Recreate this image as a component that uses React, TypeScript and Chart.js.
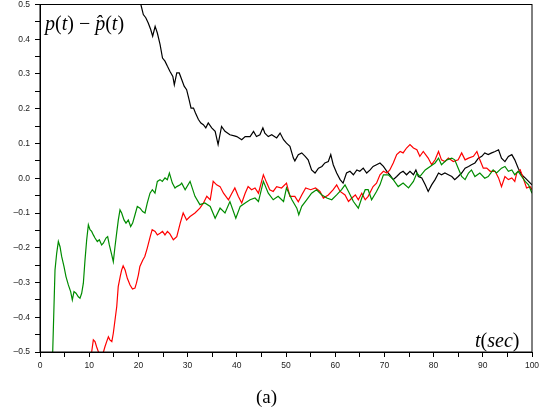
import React, { useEffect, useRef } from "react";
import { Chart, registerables } from "chart.js";

Chart.register(...registerables);

// time axis (s) and error values p(t) - p̂(t) for three runs
const tGreen = [2.2, 2.58, 3.05, 3.39, 3.73, 4.07, 4.4, 4.88, 5.28, 5.76, 6.23, 6.57, 6.91, 7.32, 7.79, 8.13, 8.47, 8.81, 9.15, 9.49, 9.83, 10.16, 10.5, 10.84, 11.18, 11.65, 12.06, 12.53, 12.87, 13.41, 13.75, 14.09, 14.57, 14.9, 15.24, 15.58, 15.92, 16.26, 16.6, 17.07, 17.48, 17.95, 18.43, 18.83, 19.31, 19.78, 20.33, 20.87, 21.34, 21.81, 22.36, 22.83, 23.37, 23.85, 24.39, 24.86, 25.41, 25.88, 26.3, 26.9, 27.44, 27.8, 28.5, 28.8, 29.5, 30.5, 31.5, 32.5, 33.5, 34.6, 35.6, 36.6, 37.6, 38.6, 39.8, 40.7, 41.7, 42.7, 43.7, 44.4, 45.4, 46.4, 47.4, 48.4, 49.5, 50.1, 51.2, 52.2, 52.6, 53.2, 54.2, 55.2, 56.2, 57.3, 58.3, 59.3, 60.3, 61.3, 62.0, 62.7, 63.7, 64.7, 65.4, 66.1, 66.7, 67.4, 68.4, 69.1, 69.8, 70.8, 71.8, 72.8, 73.8, 74.9, 75.9, 76.6, 77.2, 78.3, 79.3, 80.3, 81.0, 81.6, 82.7, 83.7, 84.3, 85.0, 85.7, 86.4, 87.1, 87.7, 88.4, 89.4, 90.4, 91.1, 92.1, 92.8, 93.8, 94.5, 95.2, 95.9, 96.5, 97.2, 97.9, 98.6, 99.3, 100];
const vGreen = [-0.6, -0.5, -0.264, -0.216, -0.182, -0.197, -0.225, -0.254, -0.283, -0.307, -0.326, -0.35, -0.326, -0.331, -0.341, -0.345, -0.331, -0.302, -0.235, -0.177, -0.134, -0.148, -0.153, -0.163, -0.172, -0.182, -0.177, -0.192, -0.187, -0.172, -0.168, -0.192, -0.22, -0.24, -0.197, -0.158, -0.12, -0.091, -0.1, -0.12, -0.129, -0.12, -0.139, -0.129, -0.105, -0.081, -0.086, -0.096, -0.1, -0.071, -0.043, -0.033, -0.043, -0.009, -0.004, -0.009, 0.001, -0.004, 0.015, -0.014, -0.028, -0.024, -0.019, -0.014, -0.033, -0.009, -0.052, -0.076, -0.071, -0.081, -0.115, -0.086, -0.1, -0.067, -0.115, -0.081, -0.071, -0.062, -0.057, -0.067, -0.009, -0.043, -0.062, -0.052, -0.067, -0.028, -0.062, -0.086, -0.105, -0.081, -0.062, -0.043, -0.033, -0.048, -0.057, -0.062, -0.048, -0.033, -0.019, -0.038, -0.067, -0.086, -0.057, -0.033, -0.033, -0.062, -0.038, -0.019, 0.01, 0.01, -0.004, -0.024, -0.014, -0.028, -0.009, 0.015, 0.005, 0.024, 0.034, 0.044, 0.058, 0.039, 0.053, 0.058, 0.053, 0.029, 0.005, -0.004, 0.015, 0.024, 0.005, 0.015, 0.0, 0.005, 0.024, 0.015, 0.029, 0.034, 0.02, 0.024, 0.01, 0.02, 0.005, -0.009, -0.019, -0.043];

const tRed = [10.2, 10.5, 10.84, 11.18, 11.5, 11.86, 12.3, 12.9, 13.2, 13.55, 13.9, 14.2, 14.6, 14.9, 15.2, 15.6, 15.9, 16.3, 16.6, 16.9, 17.3, 17.75, 18.3, 18.8, 19.3, 19.6, 20.0, 20.3, 20.9, 21.3, 21.8, 22.4, 22.8, 23.4, 23.85, 24.4, 24.9, 25.4, 25.9, 26.4, 27.1, 27.8, 28.5, 29.1, 29.8, 30.5, 31.5, 32.5, 33.2, 33.9, 34.6, 35.2, 35.9, 36.6, 37.3, 38.3, 39.0, 39.6, 40.3, 41.0, 41.7, 42.3, 43.0, 43.7, 44.4, 45.4, 46.1, 46.7, 47.4, 48.1, 49.1, 50.1, 50.8, 51.8, 52.5, 53.2, 54.0, 55.0, 56.0, 56.9, 57.6, 58.6, 59.6, 60.3, 61.0, 62.0, 62.7, 63.4, 64.1, 64.7, 65.4, 66.1, 66.7, 67.7, 68.4, 69.1, 69.8, 70.5, 71.1, 71.8, 72.5, 73.2, 73.8, 74.5, 75.2, 75.9, 76.6, 77.2, 77.9, 78.9, 79.6, 80.3, 81.0, 81.6, 82.3, 83.0, 84.0, 85.0, 85.7, 86.4, 87.1, 88.1, 88.8, 89.4, 90.1, 90.8, 91.5, 92.5, 93.2, 93.8, 94.5, 95.2, 95.9, 96.5, 96.9, 97.6, 98.2, 98.9, 99.6, 100];
const vRed = [-0.56, -0.5, -0.465, -0.47, -0.485, -0.499, -0.51, -0.5, -0.485, -0.47, -0.456, -0.465, -0.47, -0.446, -0.413, -0.369, -0.312, -0.283, -0.264, -0.252, -0.264, -0.288, -0.307, -0.319, -0.316, -0.302, -0.278, -0.254, -0.235, -0.225, -0.201, -0.168, -0.148, -0.153, -0.163, -0.158, -0.153, -0.163, -0.153, -0.16, -0.177, -0.168, -0.129, -0.1, -0.12, -0.11, -0.1, -0.086, -0.072, -0.052, -0.062, -0.009, -0.019, -0.024, -0.043, -0.062, -0.043, -0.028, -0.052, -0.071, -0.043, -0.024, -0.033, -0.028, -0.043, 0.01, -0.014, -0.033, -0.038, -0.024, -0.028, -0.014, -0.052, -0.052, -0.068, -0.048, -0.028, -0.033, -0.028, -0.038, -0.057, -0.048, -0.033, -0.019, -0.038, -0.048, -0.067, -0.057, -0.048, -0.062, -0.043, -0.062, -0.052, -0.024, -0.014, 0.01, 0.02, 0.015, 0.024, 0.044, 0.068, 0.077, 0.073, 0.087, 0.097, 0.087, 0.082, 0.063, 0.077, 0.058, 0.039, 0.053, 0.077, 0.053, 0.048, 0.058, 0.048, 0.053, 0.073, 0.053, 0.058, 0.063, 0.077, 0.053, 0.029, 0.029, 0.02, 0.02, 0.001, -0.024, 0.005, -0.004, 0.001, -0.009, 0.015, 0.024, 0.001, -0.028, -0.024, -0.033];

const tBlack = [19.8, 20.5, 21.0, 21.5, 22.0, 22.5, 22.9, 23.4, 23.85, 24.4, 24.9, 25.4, 25.9, 26.4, 27.0, 27.3, 27.8, 28.3, 28.8, 29.3, 29.8, 30.3, 30.7, 31.2, 31.6, 32.2, 32.7, 33.2, 33.7, 34.2, 34.9, 35.6, 36.2, 36.9, 37.6, 38.6, 39.5, 40.0, 41.0, 41.7, 42.7, 43.4, 44.0, 44.7, 45.3, 45.7, 46.4, 47.1, 48.1, 48.8, 49.5, 50.1, 50.8, 51.5, 51.8, 52.5, 53.2, 53.9, 54.5, 55.2, 55.9, 56.6, 57.3, 57.9, 58.6, 59.1, 59.6, 60.3, 61.0, 61.6, 62.3, 63.0, 63.7, 64.4, 65.0, 65.7, 66.4, 67.1, 67.7, 68.4, 69.1, 69.8, 70.5, 71.1, 71.8, 72.5, 73.2, 73.8, 74.5, 75.2, 75.9, 76.4, 76.9, 77.6, 78.3, 78.9, 79.6, 80.3, 81.0, 81.6, 82.3, 83.0, 83.7, 84.3, 85.0, 85.7, 86.4, 87.1, 87.7, 88.4, 89.1, 89.8, 90.4, 91.1, 91.8, 92.5, 93.2, 93.8, 94.5, 95.2, 95.9, 96.5, 97.2, 97.9, 98.6, 99.3, 100];
const vBlack = [0.54, 0.5, 0.471, 0.462, 0.447, 0.428, 0.409, 0.437, 0.418, 0.385, 0.346, 0.337, 0.322, 0.308, 0.293, 0.269, 0.303, 0.303, 0.284, 0.265, 0.255, 0.226, 0.202, 0.202, 0.188, 0.169, 0.159, 0.154, 0.145, 0.159, 0.145, 0.135, 0.097, 0.149, 0.135, 0.125, 0.122, 0.12, 0.111, 0.12, 0.12, 0.135, 0.12, 0.125, 0.145, 0.13, 0.12, 0.125, 0.116, 0.13, 0.111, 0.101, 0.092, 0.058, 0.05, 0.068, 0.073, 0.063, 0.053, 0.024, 0.015, 0.029, 0.034, 0.044, 0.048, 0.068, 0.039, 0.015, -0.004, -0.014, 0.015, 0.02, 0.01, 0.024, 0.02, 0.029, 0.015, 0.024, 0.034, 0.039, 0.044, 0.034, 0.02, 0.01, -0.004, 0.005, 0.015, 0.02, 0.01, 0.02, 0.01, 0.024, 0.005, 0.001, -0.019, -0.038, -0.019, -0.004, 0.015, 0.01, 0.015, 0.01, 0.005, -0.004, 0.005, 0.015, 0.029, 0.034, 0.039, 0.044, 0.058, 0.063, 0.073, 0.068, 0.073, 0.077, 0.082, 0.058, 0.048, 0.063, 0.068, 0.053, 0.029, 0.01, 0.001, -0.009, -0.019];

const xMin = 0;
const xMax = 100;
const xStep = 5;
const yMin = -0.5;
const yMax = 0.5;
const yStep = 0.05;

const toPoints = (ts: number[], vs: number[]) => ts.map((t, i) => ({ x: t, y: vs[i] }));

const framePlugin = {
  id: "frame",
  afterDatasetsDraw(chart: any) {
    const { ctx, chartArea } = chart;
    ctx.save();
    ctx.strokeStyle = "#000";
    ctx.lineWidth = 1;
    ctx.strokeRect(chartArea.left, chartArea.top, chartArea.right - chartArea.left, chartArea.bottom - chartArea.top);
    ctx.restore();
  },
};

export default function App() {
  const ref = useRef<HTMLCanvasElement | null>(null);

  useEffect(() => {
    if (!ref.current) return;
    const tickFont = { family: "'Liberation Sans', Arial, sans-serif", size: 8.5 };
    const chart = new Chart(ref.current, {
      type: "line",
      data: {
        datasets: [
          { data: toPoints(tGreen, vGreen), borderColor: "#008c00", borderWidth: 1.2, pointRadius: 0, tension: 0 },
          { data: toPoints(tRed, vRed), borderColor: "#ff0000", borderWidth: 1.2, pointRadius: 0, tension: 0 },
          { data: toPoints(tBlack, vBlack), borderColor: "#000000", borderWidth: 1.2, pointRadius: 0, tension: 0 },
        ],
      },
      options: {
        animation: false,
        responsive: false,
        devicePixelRatio: 1,
        layout: { padding: { left: 0, top: 4.5, right: 15, bottom: 0 } },
        plugins: { legend: { display: false }, tooltip: { enabled: false }, title: { display: false } },
        scales: {
          x: {
            type: "linear",
            min: xMin,
            max: xMax,
            afterFit: (s: any) => { s.height = 60; s.paddingLeft = 0; s.paddingRight = 0; },
            grid: { drawOnChartArea: false, drawTicks: true, tickLength: 5, color: "#000", lineWidth: 1 },
            border: { display: true, color: "#000", width: 1 },
            ticks: {
              stepSize: xStep,
              autoSkip: false,
              maxRotation: 0,
              padding: 4,
              color: "#222",
              font: tickFont,
              callback: (v: any) => (Math.round(Number(v)) % 10 === 0 ? String(Math.round(Number(v))) : ""),
            },
          },
          y: {
            type: "linear",
            min: yMin,
            max: yMax,
            afterFit: (s: any) => { s.width = 40; s.paddingTop = 0; s.paddingBottom = 0; },
            grid: { drawOnChartArea: false, drawTicks: true, tickLength: 5, color: "#000", lineWidth: 1 },
            border: { display: true, color: "#000", width: 1 },
            ticks: {
              stepSize: yStep,
              autoSkip: false,
              padding: 5,
              color: "#222",
              font: tickFont,
              callback: (v: any) => {
                const n = Math.round(Number(v) * 100);
                if (n % 10 !== 0) return "";
                return (n / 100).toFixed(1).replace("-", "\u2013");
              },
            },
          },
        },
      },
      plugins: [framePlugin],
    } as any);
    return () => chart.destroy();
  }, []);

  const serif = "'Liberation Serif', 'Times New Roman', serif";
  return (
    <div style={{ position: "fixed", left: 0, top: 0, width: 547, height: 412, background: "#fff" }}>
      <canvas ref={ref} width={547} height={412} style={{ display: "block", width: 547, height: 412 }} />
      <div style={{ position: "absolute", left: 45, top: 11, fontFamily: serif, fontSize: 20, lineHeight: "24px", whiteSpace: "nowrap", color: "#000" }}>
        <i>p</i>(<i>t</i>)&nbsp;− <i>p̂</i>(<i>t</i>)
      </div>
      <div style={{ position: "absolute", left: 475, top: 328, fontFamily: serif, fontSize: 20, lineHeight: "24px", whiteSpace: "nowrap", color: "#000" }}>
        <i>t</i>(<i>sec</i>)
      </div>
      <div style={{ position: "absolute", left: 256, top: 385, fontFamily: serif, fontSize: 19, lineHeight: "24px", whiteSpace: "nowrap", color: "#000" }}>
        (a)
      </div>
    </div>
  );
}
